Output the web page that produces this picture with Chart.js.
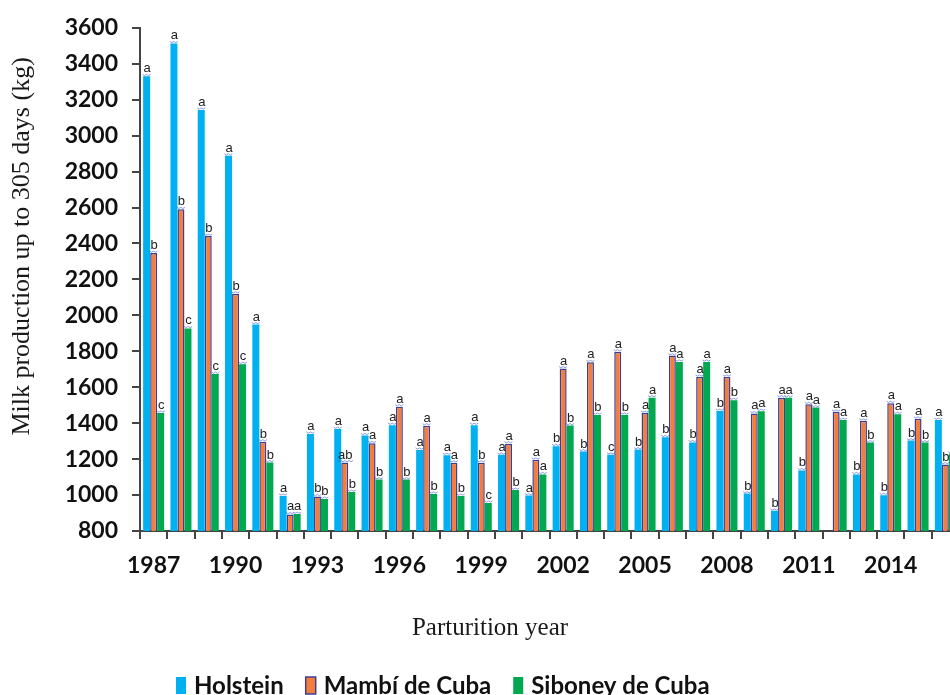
<!DOCTYPE html>
<html>
<head>
<meta charset="utf-8">
<title>Milk production up to 305 days</title>
<script src="https://cdn.jsdelivr.net/npm/chart.js@4.4.1/dist/chart.umd.min.js"></script>
<style>
    html, body { margin: 0; padding: 0; overflow: hidden; background: #fff; }
    #wrap { width: 959px; height: 695px; position: relative; }
</style>
</head>
<body>
<div id="wrap"><canvas id="milkChart"></canvas></div>
<script>
// categories (parturition year) and the years that get a label on the axis
const years = ['1987', '1988', '1989', '1990', '1991', '1992', '1993', '1994', '1995', '1996',
               '1997', '1998', '1999', '2000', '2001', '2002', '2003', '2004', '2005', '2006',
               '2007', '2008', '2009', '2010', '2011', '2012', '2013', '2014', '2015', '2016']
const shownYears = ['1987', '1990', '1993', '1996', '1999', '2002', '2005', '2008', '2011', '2014']

// milk production up to 305 days (kg)
const holstein = [3330, 3513, 3143, 2888, 1949, 995, 1340, 1367, 1332, 1389,
                  1251, 1222, 1389, 1224, 997, 1271, 1242, 1224, 1253, 1321,
                  1293, 1468, 1008, 912, 1137, null, 1115, 999, 1303, 1417]
const mambi = [2347, 2590, 2441, 2120, 1297, 892, 992, 1181, 1288, 1492,
               1386, 1180, 1180, 1286, 1196, 1704, 1739, 1798, 1456, 1776,
               1658, 1658, 1454, 1542, 1505, 1463, 1413, 1511, 1424, 1170]
const siboney = [1457, 1927, 1673, 1728, 1181, 894, 978, 1017, 1086, 1086,
                 1006, 995, 956, 1028, 1115, 1387, 1446, 1446, 1542, 1741,
                 1741, 1528, 1467, 1542, 1487, 1417, 1292, 1450, 1292, 1231]

// significance letters above each bar
const holsteinLetters = ['a', 'a', 'a', 'a', 'a', 'a', 'a', 'a', 'a', 'a',
                         'a', 'a', 'a', 'a', 'a', 'b', 'b', 'c', 'b', 'b',
                         'b', 'b', 'b', 'b', 'b', '', 'b', 'b', 'b', 'a']
const mambiLetters = ['b', 'b', 'b', 'b', 'b', 'a', 'b', 'ab', 'a', 'a',
                      'a', 'a', 'b', 'a', 'a', 'a', 'a', 'a', 'a', 'a',
                      'a', 'a', 'a', 'a', 'a', 'a', 'a', 'a', 'a', 'b']
const siboneyLetters = ['c', 'c', 'c', 'c', 'b', 'a', 'b', 'b', 'b', 'b',
                        'b', 'b', 'c', 'b', 'a', 'b', 'b', 'b', 'a', 'a',
                        'a', 'b', 'a', 'a', 'a', 'a', 'b', 'a', 'b', 'b']

const yTitle = 'Milk production up to 305 days (kg)'
const xTitle = 'Parturition year'

const TICK_FONT = { family: 'Lato', weight: 'bold', size: 23 }

// letters with the little blue squiggle under them
const letterPlugin = {
    id: 'letters',
    afterDatasetsDraw(chart) {
        const ctx = chart.ctx
        ctx.save()
        ctx.font = '13px "Liberation Sans"'
        ctx.textAlign = 'center'
        ctx.textBaseline = 'alphabetic'
        chart.data.datasets.forEach((ds, i) => {
            const meta = chart.getDatasetMeta(i)
            meta.data.forEach((bar, j) => {
                const txt = ds.letters[j]
                if (!txt || ds.data[j] == null) return
                const x = bar.x + 0.5
                const y = bar.y - 4
                ctx.fillStyle = '#222'
                ctx.fillText(txt, x, y)
                const w = ctx.measureText(txt).width
                ctx.strokeStyle = 'rgba(60,90,210,0.6)'
                ctx.lineWidth = 1
                ctx.beginPath()
                for (let k = 0; k <= w + 2; k += 2) {
                    const px = x - w / 2 - 1 + k
                    const py = y + 2 + ((k / 2) % 2 ? 1.2 : 0)
                    if (k === 0) ctx.moveTo(px, py)
                    else ctx.lineTo(px, py)
                }
                ctx.stroke()
            })
        })
        ctx.restore()
    }
}

// axis titles and legend sit off-centre in the original figure, so draw them here
const outerTextPlugin = {
    id: 'outerText',
    afterDraw(chart) {
        const ctx = chart.ctx
        const area = chart.chartArea

        ctx.save()
        ctx.fillStyle = '#1a1a1a'
        ctx.font = '26px "Liberation Serif"'
        ctx.textAlign = 'center'
        ctx.textBaseline = 'middle'
        ctx.translate(22, (area.top + area.bottom) / 2 - 33)
        ctx.rotate(-Math.PI / 2)
        ctx.fillText(yTitle, 0, 0)
        ctx.restore()

        ctx.save()
        ctx.fillStyle = '#1a1a1a'
        ctx.font = '25px "Liberation Serif"'
        ctx.textAlign = 'center'
        ctx.textBaseline = 'middle'
        ctx.fillText(xTitle, area.left + 350, 628)
        ctx.restore()

        // legend
        ctx.save()
        ctx.font = 'bold 24px Lato'
        ctx.textAlign = 'left'
        ctx.textBaseline = 'middle'
        let x = area.left + 36
        const cy = 685
        chart.data.datasets.forEach((ds) => {
            ctx.fillStyle = ds.backgroundColor
            ctx.fillRect(x, cy - 8, 10, 17)
            if (ds.borderWidth) {
                ctx.strokeStyle = ds.borderColor
                ctx.lineWidth = 1.5
                ctx.strokeRect(x, cy - 8, 10, 17)
            }
            x += 18
            ctx.fillStyle = '#111'
            ctx.fillText(ds.label, x, cy + 1)
            x += ctx.measureText(ds.label).width + 22
        })
        ctx.restore()
    }
}

new Chart(document.getElementById('milkChart'), {
    type: 'bar',
    data: {
        labels: years,
        datasets: [
            { label: 'Holstein', data: holstein, letters: holsteinLetters,
              backgroundColor: '#00b0f0', borderWidth: 0 },
            { label: 'Mambí de Cuba', data: mambi, letters: mambiLetters,
              backgroundColor: '#f47d3c', borderColor: '#3d3f96', borderWidth: 1.5 },
            { label: 'Siboney de Cuba', data: siboney, letters: siboneyLetters,
              backgroundColor: '#00a84f', borderWidth: 0 }
        ]
    },
    options: {
        responsive: true,
        maintainAspectRatio: false,
        animation: false,
        layout: { padding: { top: 24, left: 0, right: 0, bottom: 0 } },
        datasets: { bar: { categoryPercentage: 0.77, barPercentage: 1.0 } },
        plugins: {
            legend: { display: false },
            tooltip: { enabled: false }
        },
        scales: {
            x: {
                ticks: {
                    autoSkip: false, maxRotation: 0, minRotation: 0,
                    font: TICK_FONT, color: '#111', padding: 13,
                    callback: function (v, i) {
                        const yr = years[i]
                        return shownYears.includes(yr) ? yr : ''
                    }
                },
                grid: { drawOnChartArea: false, tickLength: 8, color: '#444', lineWidth: 2, offset: true },
                border: { color: '#444', width: 2 },
                afterFit(scale) { scale.height = 164 }
            },
            y: {
                min: 800, max: 3600,
                ticks: {
                    stepSize: 200, font: TICK_FONT, color: '#111', padding: 14,
                    callback: (v) => String(v)
                },
                grid: { drawOnChartArea: false, tickLength: 8, color: '#444', lineWidth: 2 },
                border: { color: '#444', width: 2 },
                afterFit(scale) { scale.width = 140 }
            }
        }
    },
    plugins: [letterPlugin, outerTextPlugin]
})
</script>
</body>
</html>
